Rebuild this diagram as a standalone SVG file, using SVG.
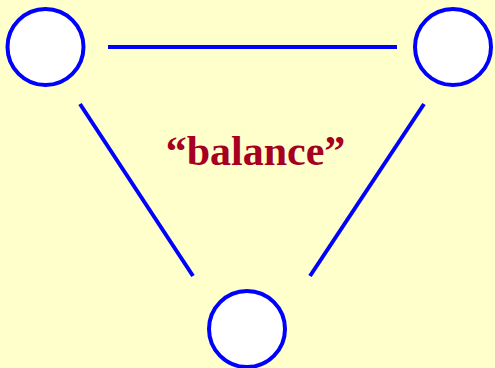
<svg xmlns="http://www.w3.org/2000/svg" width="495" height="368" viewBox="0 0 495 368">
<style>
.node{fill:#FFFFFF;stroke:#0000FF;stroke-width:4}
.edge{stroke:#0000FF;stroke-width:4;fill:none}
.label{font-family:"Liberation Serif","Times New Roman",serif;font-weight:bold;font-size:42px;fill:#A50021}
</style>
<rect width="495" height="368" fill="#FFFFCC"/>
<g id="connectors">
<line class="edge" x1="108" y1="47" x2="397" y2="47"/>
<line class="edge" x1="80" y1="104" x2="193" y2="276"/>
<line class="edge" x1="424" y1="104" x2="310" y2="276"/>
</g>
<g id="node-left"><circle class="node" cx="45.5" cy="47" r="38"/></g>
<g id="node-right"><circle class="node" cx="453" cy="47" r="38"/></g>
<g id="node-bottom"><circle class="node" cx="247" cy="329" r="38"/></g>
<text class="label" x="255.5" y="165" text-anchor="middle">“balance”</text>
</svg>
